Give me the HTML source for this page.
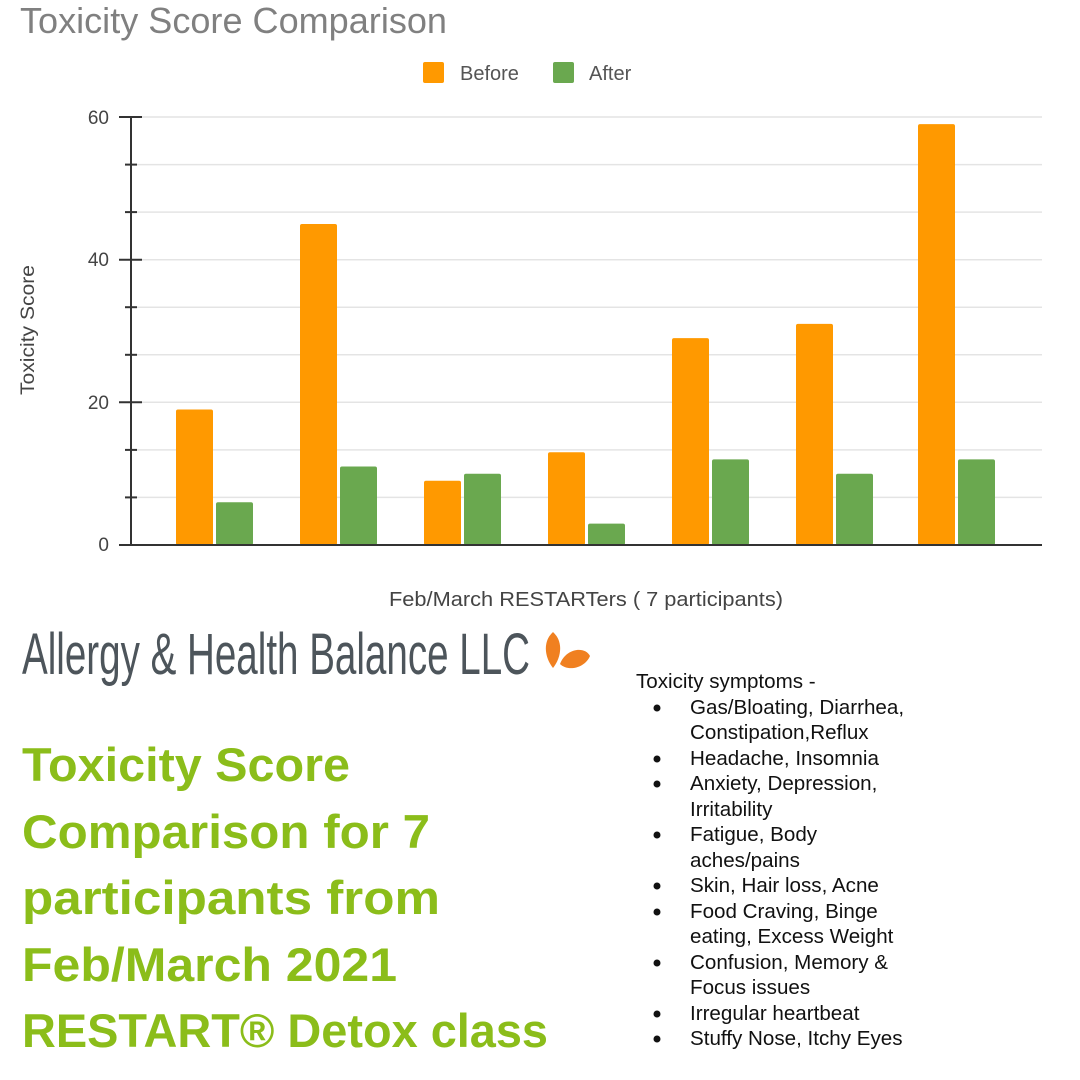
<!DOCTYPE html>
<html><head><meta charset="utf-8"><style>html,body{margin:0;padding:0;background:#fff}svg{display:block}</style></head>
<body>
<svg width="1080" height="1080" viewBox="0 0 1080 1080" xmlns="http://www.w3.org/2000/svg" font-family="Liberation Sans, Arial, sans-serif">
<text x="20" y="33" font-size="36" fill="#808080" textLength="427" lengthAdjust="spacingAndGlyphs">Toxicity Score Comparison</text>
<rect x="423" y="62" width="21" height="21" rx="2" fill="#ff9900"/>
<text x="460" y="80" font-size="20" fill="#555">Before</text>
<rect x="553" y="62" width="21" height="21" rx="2" fill="#6aa84f"/>
<text x="589" y="80" font-size="20" fill="#555">After</text>
<g stroke="#e4e4e4" stroke-width="1.5">
<line x1="131" x2="1042" y1="117" y2="117"/><line x1="131" x2="1042" y1="164.6" y2="164.6"/><line x1="131" x2="1042" y1="212.1" y2="212.1"/><line x1="131" x2="1042" y1="259.7" y2="259.7"/><line x1="131" x2="1042" y1="307.2" y2="307.2"/><line x1="131" x2="1042" y1="354.8" y2="354.8"/><line x1="131" x2="1042" y1="402.3" y2="402.3"/><line x1="131" x2="1042" y1="449.9" y2="449.9"/><line x1="131" x2="1042" y1="497.4" y2="497.4"/>
</g>
<g fill="#ff9900">
<rect x="176" y="409.5" width="37" height="135.5" rx="2"/>
<rect x="300" y="224" width="37" height="321" rx="2"/>
<rect x="424" y="480.8" width="37" height="64.2" rx="2"/>
<rect x="548" y="452.3" width="37" height="92.7" rx="2"/>
<rect x="672" y="338.1" width="37" height="206.9" rx="2"/>
<rect x="796" y="323.9" width="37" height="221.1" rx="2"/>
<rect x="918" y="124.1" width="37" height="420.9" rx="2"/>
</g>
<g fill="#6aa84f">
<rect x="216" y="502.2" width="37" height="42.8" rx="2"/>
<rect x="340" y="466.5" width="37" height="78.5" rx="2"/>
<rect x="464" y="473.7" width="37" height="71.3" rx="2"/>
<rect x="588" y="523.6" width="37" height="21.4" rx="2"/>
<rect x="712" y="459.4" width="37" height="85.6" rx="2"/>
<rect x="836" y="473.7" width="37" height="71.3" rx="2"/>
<rect x="958" y="459.4" width="37" height="85.6" rx="2"/>
</g>
<g stroke="#333" stroke-width="2">
<line x1="131" y1="117" x2="131" y2="545"/>
<line x1="119" y1="545" x2="1042" y2="545"/>
<line x1="119" y1="117" x2="142" y2="117"/><line x1="119" y1="259.7" x2="142" y2="259.7"/><line x1="119" y1="402.3" x2="142" y2="402.3"/>
<line x1="125" y1="164.6" x2="137" y2="164.6"/><line x1="125" y1="212.1" x2="137" y2="212.1"/><line x1="125" y1="307.2" x2="137" y2="307.2"/><line x1="125" y1="354.8" x2="137" y2="354.8"/><line x1="125" y1="449.9" x2="137" y2="449.9"/><line x1="125" y1="497.4" x2="137" y2="497.4"/>
</g>
<g font-size="19" fill="#444" text-anchor="end">
<text x="109" y="124">60</text><text x="109" y="266">40</text><text x="109" y="409">20</text><text x="109" y="551">0</text>
</g>
<text transform="translate(34,330) rotate(-90)" font-size="19" fill="#444" text-anchor="middle" textLength="130" lengthAdjust="spacingAndGlyphs">Toxicity Score</text>
<text x="389" y="606" font-size="20" fill="#444" textLength="394" lengthAdjust="spacingAndGlyphs">Feb/March RESTARTers ( 7 participants)</text>
<text x="22" y="674" font-size="58" fill="#4d555b" textLength="508" lengthAdjust="spacingAndGlyphs">Allergy &amp; Health Balance LLC</text>
<g fill="#f08020">
<path d="M553 632 C542 642 545 658 553 668 C561 658 564 642 553 632Z"/>
<path d="M560 664 C566 648 585 646 590 656 C585 668 568 672 560 664Z"/>
</g>
<g font-size="47" font-weight="bold" fill="#8bbd1a">
<text x="22" y="781" textLength="328" lengthAdjust="spacingAndGlyphs">Toxicity Score</text>
<text x="22" y="848" textLength="408" lengthAdjust="spacingAndGlyphs">Comparison for 7</text>
<text x="22" y="914" textLength="418" lengthAdjust="spacingAndGlyphs">participants from</text>
<text x="22" y="981" textLength="375" lengthAdjust="spacingAndGlyphs">Feb/March 2021</text>
<text x="22" y="1047" textLength="526" lengthAdjust="spacingAndGlyphs">RESTART® Detox class</text>
</g>
<g font-size="20.6" fill="#111">
<text x="636" y="688">Toxicity symptoms -</text>
<text x="690" y="714">Gas/Bloating, Diarrhea,</text>
<text x="690" y="739">Constipation,Reflux</text>
<text x="690" y="765">Headache, Insomnia</text>
<text x="690" y="790">Anxiety, Depression,</text>
<text x="690" y="816">Irritability</text>
<text x="690" y="841">Fatigue, Body</text>
<text x="690" y="867">aches/pains</text>
<text x="690" y="892">Skin, Hair loss, Acne</text>
<text x="690" y="918">Food Craving, Binge</text>
<text x="690" y="943">eating, Excess Weight</text>
<text x="690" y="969">Confusion, Memory &amp;</text>
<text x="690" y="994">Focus issues</text>
<text x="690" y="1020">Irregular heartbeat</text>
<text x="690" y="1045">Stuffy Nose, Itchy Eyes</text>
</g>
<g fill="#111">
<circle cx="657" cy="708" r="3.5"/><circle cx="657" cy="759" r="3.5"/><circle cx="657" cy="784" r="3.5"/><circle cx="657" cy="835" r="3.5"/><circle cx="657" cy="886" r="3.5"/><circle cx="657" cy="912" r="3.5"/><circle cx="657" cy="963" r="3.5"/><circle cx="657" cy="1014" r="3.5"/><circle cx="657" cy="1039" r="3.5"/>
</g>
</svg>
</body></html>
